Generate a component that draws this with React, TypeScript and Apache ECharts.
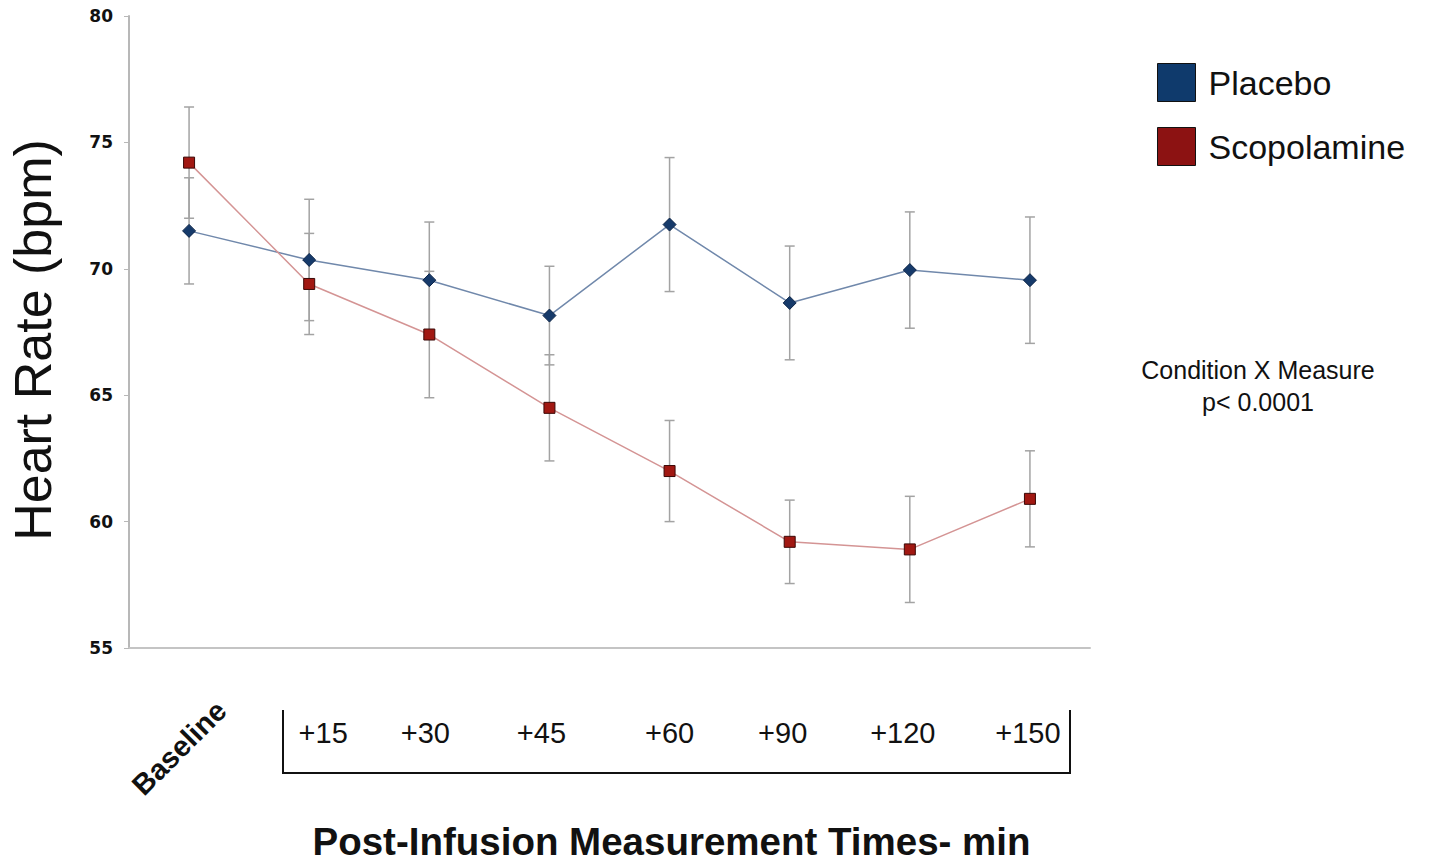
import React, { useEffect, useRef } from "react";
import * as echarts from "echarts";

const categories = ["Baseline", "+15", "+30", "+45", "+60", "+90", "+120", "+150"];
const placebo = [71.5, 70.35, 69.55, 68.15, 71.75, 68.65, 69.95, 69.55];
const placeboErr = [2.1, 2.4, 2.3, 1.95, 2.65, 2.25, 2.3, 2.5];
const scopolamine = [74.2, 69.4, 67.4, 64.5, 62.0, 59.2, 58.9, 60.9];
const scopolamineErr = [2.2, 2.0, 2.5, 2.1, 2.0, 1.65, 2.1, 1.9];
const yTicks = [55, 60, 65, 70, 75, 80];

// horizontal nudges (px) for the post-infusion tick labels, as in the source figure
const labelNudge: Record<string, number> = { "+15": 14, "+30": -4, "+45": -8, "+90": -7, "+120": -7, "+150": -2 };

const errData = (vals: number[], errs: number[]) =>
  vals.map((v, i) => [i, v - errs[i], v + errs[i]]);

const renderErr = (params: any, api: any) => {
  const x = api.value(0);
  const lo = api.coord([x, api.value(1)]);
  const hi = api.coord([x, api.value(2)]);
  const cap = 5;
  const style = { stroke: "#a3a3a3", lineWidth: 1.5 };
  return {
    type: "group",
    children: [
      { type: "line", shape: { x1: lo[0], y1: lo[1], x2: hi[0], y2: hi[1] }, style },
      { type: "line", shape: { x1: lo[0] - cap, y1: lo[1], x2: lo[0] + cap, y2: lo[1] }, style },
      { type: "line", shape: { x1: hi[0] - cap, y1: hi[1], x2: hi[0] + cap, y2: hi[1] }, style },
    ],
  };
};

export default function App() {
  const ref = useRef<HTMLDivElement>(null);
  useEffect(() => {
    if (!ref.current) return;
    const chart = echarts.init(ref.current, null, { renderer: "svg" });
    const postData = categories.map((c) => {
      const n = labelNudge[c] || 0;
      return {
        value: c,
        textStyle: { padding: n >= 0 ? [0, 0, 0, 2 * n] : [0, -2 * n, 0, 0] },
      };
    });
    chart.setOption({
      animation: false,
      backgroundColor: "#ffffff",
      textStyle: { fontFamily: "Liberation Sans, Arial, sans-serif" },
      grid: { left: 129, top: 16, width: 961, height: 632, outerBoundsMode: "none", containLabel: false },
      legend: {
        orient: "vertical",
        left: 1152,
        top: 58,
        itemWidth: 38,
        itemHeight: 38,
        itemGap: 25,
        icon: "rect",
        data: [
          { name: "Placebo", itemStyle: { color: "#0f3a6c", borderColor: "#111", borderWidth: 1 } },
          { name: "Scopolamine", itemStyle: { color: "#8c1212", borderColor: "#111", borderWidth: 1 } },
        ],
        textStyle: {
          fontSize: 34,
          color: "#111",
          fontFamily: "Liberation Sans, Arial, sans-serif",
          padding: [0, 0, 0, 8],
        },
      },
      xAxis: [
        {
          type: "category",
          data: categories,
          boundaryGap: true,
          axisLine: { show: true, lineStyle: { color: "#c4c4c4", width: 2 } },
          axisTick: { show: false },
          axisLabel: {
            rotate: 45,
            align: "center",
            margin: 90,
            padding: [0, 28, 0, 0],
            fontSize: 29,
            fontWeight: "bold",
            color: "#111",
            fontFamily: "Liberation Sans, Arial, sans-serif",
            formatter: (v: string) => (v === "Baseline" ? v : ""),
            interval: 0,
          },
          name: "Post-Infusion Measurement Times- min",
          nameLocation: "middle",
          nameGap: 174,
          nameTextStyle: {
            fontSize: 38.5,
            fontWeight: "bold",
            color: "#111",
            fontFamily: "Liberation Sans, Arial, sans-serif",
            padding: [0, 0, 0, 124],
          },
        },
        {
          type: "category",
          data: postData,
          position: "bottom",
          boundaryGap: true,
          axisLine: { show: false },
          axisTick: { show: false },
          axisLabel: {
            margin: 70,
            fontSize: 29,
            color: "#111",
            fontFamily: "Liberation Sans, Arial, sans-serif",
            formatter: (v: string) => (v === "Baseline" ? "" : v),
            interval: 0,
          },
        },
      ],
      yAxis: {
        type: "value",
        min: 55,
        max: 80,
        interval: 5,
        splitLine: { show: false },
        axisLine: { show: true, lineStyle: { color: "#b8b8b8", width: 2 } },
        axisTick: { show: true, inside: false, length: 5, lineStyle: { color: "#b8b8b8" } },
        axisLabel: {
          margin: 16,
          fontSize: 17,
          fontWeight: "bold",
          color: "#111",
          fontFamily: "DejaVu Sans, Verdana, sans-serif",
          formatter: (v: number) => (yTicks.includes(v) ? String(v) : ""),
        },
        name: "Heart Rate (bpm)",
        nameLocation: "middle",
        nameGap: 70,
        nameTextStyle: {
          fontSize: 52,
          color: "#111",
          fontFamily: "Liberation Sans, Arial, sans-serif",
          padding: [0, 16, 0, 0],
        },
      },
      series: [
        {
          name: "PlaceboErr",
          type: "custom",
          renderItem: renderErr,
          data: errData(placebo, placeboErr),
          z: 1,
          silent: true,
        },
        {
          name: "ScopErr",
          type: "custom",
          renderItem: renderErr,
          data: errData(scopolamine, scopolamineErr),
          z: 1,
          silent: true,
        },
        {
          name: "Placebo",
          type: "line",
          data: placebo,
          symbol: "diamond",
          symbolSize: 13,
          itemStyle: { color: "#163a6a", borderColor: "#0d2548", borderWidth: 1 },
          lineStyle: { color: "#7088ab", width: 1.5 },
          z: 3,
        },
        {
          name: "Scopolamine",
          type: "line",
          data: scopolamine,
          symbol: "rect",
          symbolSize: 11,
          itemStyle: { color: "#a11812", borderColor: "#3b0806", borderWidth: 1 },
          lineStyle: { color: "#d49494", width: 1.5 },
          z: 4,
        },
      ],
      graphic: [
        {
          type: "polyline",
          shape: { points: [[283, 710], [283, 773], [1070, 773], [1070, 710]] },
          style: { stroke: "#111", lineWidth: 2, fill: "none" },
        },
        {
          type: "text",
          x: 1258,
          y: 370,
          style: {
            text: "Condition X Measure",
            fontSize: 25,
            fill: "#111",
            fontFamily: "Liberation Sans, Arial, sans-serif",
            textAlign: "center",
            textVerticalAlign: "middle",
          },
        },
        {
          type: "text",
          x: 1258,
          y: 402,
          style: {
            text: "p< 0.0001",
            fontSize: 25,
            fill: "#111",
            fontFamily: "Liberation Sans, Arial, sans-serif",
            textAlign: "center",
            textVerticalAlign: "middle",
          },
        },
      ],
    });
    return () => chart.dispose();
  }, []);
  return <div ref={ref} style={{ width: 1429, height: 865, margin: -8 }} />;
}
